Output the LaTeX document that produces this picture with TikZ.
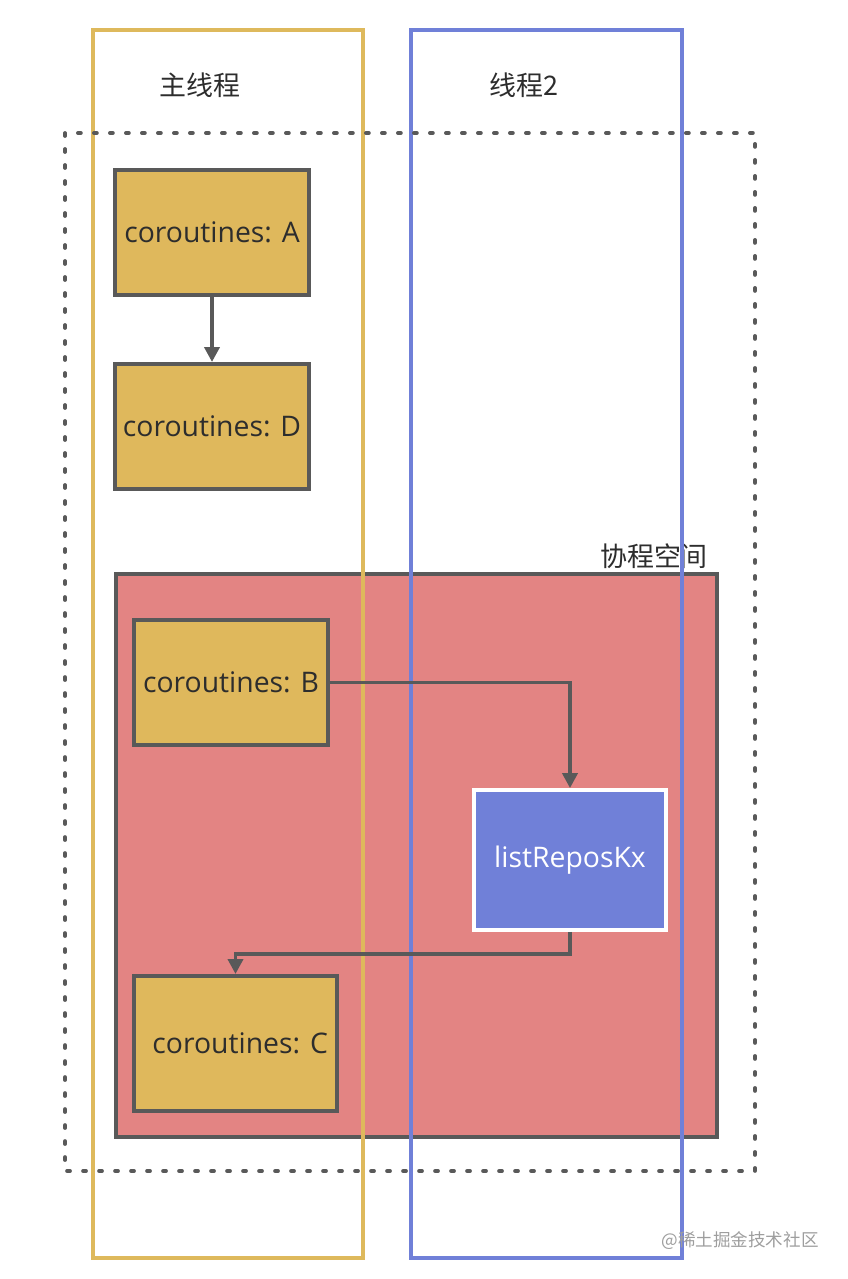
\documentclass[tikz,border=0pt]{standalone}
\usepackage{fontspec}
\setmainfont{Open Sans}
\newfontfamily\cjk{Noto Sans CJK SC}
\usepackage{tikz}
\usetikzlibrary{arrows.meta}
\definecolor{coyellow}{RGB}{223,184,92}
\definecolor{thyellow}{RGB}{222,185,92}
\definecolor{thblue}{RGB}{112,128,216}
\definecolor{cored}{RGB}{227,132,131}
\definecolor{edgegray}{RGB}{89,89,89}
\definecolor{txtgray}{RGB}{45,45,45}
\tikzstyle{coro} = [rectangle, draw=edgegray, fill=coyellow, line width=3.4pt,
    text=txtgray, font=\fontsize{24.2}{28}\selectfont, inner sep=0pt]
\tikzstyle{thread} = [line width=3pt]
\tikzstyle{flow} = [->, draw=edgegray, line width=3.2pt]
\tikzstyle{cjklabel} = [text=txtgray, font=\cjk\fontsize{23}{28}\selectfont, inner sep=0pt]
\tikzset{>={Triangle[length=4.5mm,width=4.5mm]}}

\begin{document}
\begin{tikzpicture}[x=0.03cm, y=-0.03cm]
\useasboundingbox (0,0) rectangle (848,1279);
    %space
    \draw[draw=edgegray, fill=cored, line width=3.4pt] (116,574) rectangle (717,1137);
    \node[cjklabel] (space) at (654,556) {协程空间};
    %threads
    \draw[thread, draw=thyellow] (93,30) rectangle (363,1258);
    \draw[thread, draw=thblue] (411,30) rectangle (682,1258);
    \node[cjklabel] (main) at (200,85) {主线程};
    \node[cjklabel] (t2) at (524,85) {线程2};
    \draw[draw=edgegray, line width=3.2pt, line cap=round,
          dash pattern=on 0.09cm off 0.39cm] (65,133) rectangle (755,1171);
    %coroutines
    \node[coro, minimum width=5.82cm, minimum height=3.75cm] (a) at (212,232.5) {coroutines: A};
    \node[coro, minimum width=5.82cm, minimum height=3.75cm] (d) at (212,426.5) {coroutines: D};
    \node[coro, minimum width=5.82cm, minimum height=3.75cm] (b) at (231,682.5) {coroutines: B};
    \node[coro, minimum width=6.09cm, minimum height=4.05cm] (c) at (235.5,1043.5) {\hspace{8pt}coroutines: C};
    \node[rectangle, draw=white, fill=thblue, line width=3.2pt, text=white,
          font=\fontsize{24.2}{28}\selectfont, inner sep=0pt,
          minimum width=5.76cm, minimum height=4.2cm] (k) at (570,860) {listReposKx};
    %arrows
    \draw[flow] (a) -- (d);
    \draw[flow] (b.east) -| (k.north);
    \draw[flow] (k.south) -- ++(0,22) -| (c.north);
    %mark
    \node[text=black!38, font=\cjk\fontsize{15}{18}\selectfont, inner sep=0pt] (mark) at (740,1241) {@稀土掘金技术社区};
\end{tikzpicture}
\end{document}
